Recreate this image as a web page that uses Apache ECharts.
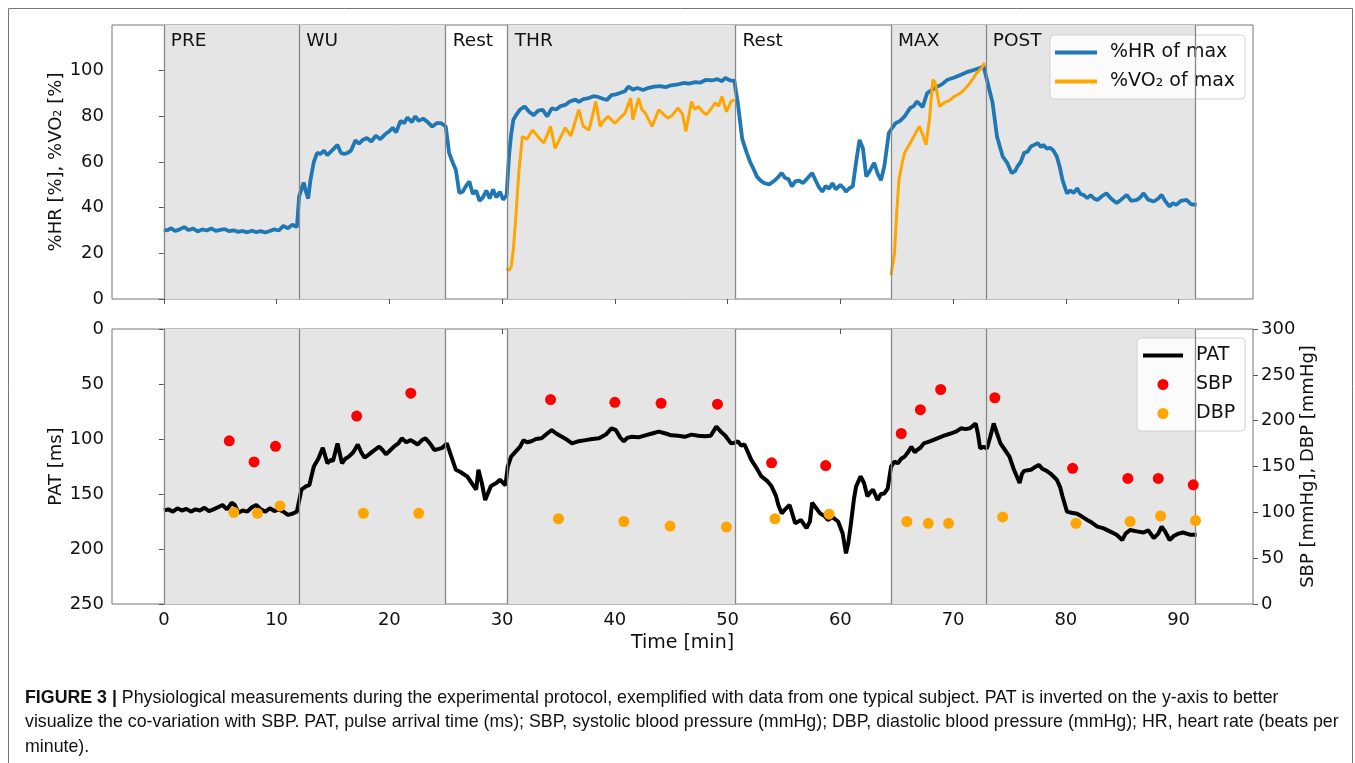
<!DOCTYPE html>
<html>
<head>
<meta charset="utf-8">
<script src="https://cdn.jsdelivr.net/npm/echarts@6/dist/echarts.min.js"></script>
<style>html,body{margin:0;padding:0;background:#fff;}#chart{width:1355px;height:763px;}</style>
</head>
<body>
<div id="chart"></div>
<script>
// ---------------- DATA ----------------
const phaseNames = ['PRE','WU','Rest','THR','Rest','MAX','POST'];
const phaseStart = [0, 12, 25, 30.5, 50.7, 64.5, 72.9];
const phaseEnd   = [12, 25, 30.5, 50.7, 64.5, 72.9, 91.5];
const phaseShaded = [true, true, false, true, false, true, true];
const phaseBoundaries = [0, 12, 25, 30.5, 50.7, 64.5, 72.9, 91.5];

const xTicks = [0,10,20,30,40,50,60,70,80,90];
const topYTicks = [0,20,40,60,80,100];

const hrTime = [0,0.3,0.6,1,1.4,1.8,2.2,2.6,3,3.4,3.8,4.2,4.6,5,5.4,5.8,6.2,6.6,7,7.4,7.8,8.2,8.6,9,9.4,9.8,10.2,10.6,11,11.4,11.8,
 12,12.2,12.4,12.6,12.8,13,13.3,13.6,13.9,14.2,14.5,14.8,15.1,15.4,15.7,16,16.3,16.6,17,17.3,17.6,18,18.4,18.8,19.2,19.6,20,20.3,20.6,21,21.3,21.6,22,22.3,22.6,23,23.4,23.8,24.2,24.6,25,
 25.3,25.6,25.9,26.2,26.5,26.8,27.1,27.4,27.7,28,28.3,28.6,28.9,29.2,29.5,29.8,30.1,30.4,
 30.6,30.8,31,31.3,31.6,32,32.4,32.8,33.2,33.6,34,34.4,34.8,35.2,35.6,36,36.5,36.8,37.2,37.7,38.1,38.5,39,39.3,39.7,40.1,40.5,40.9,41.2,41.6,42,42.5,43,43.5,44,44.5,45,45.6,46.1,46.6,47.1,47.6,48.1,48.6,49.1,49.5,49.8,50.2,50.6,
 50.9,51.1,51.3,51.7,52,52.2,52.6,53,53.3,53.7,54.2,54.5,54.8,55.1,55.4,55.7,56,56.3,56.7,57.1,57.5,57.8,58.1,58.4,58.7,59,59.3,59.6,60,60.3,60.5,60.8,61.1,61.4,61.7,62,62.3,62.6,63,63.3,63.6,63.9,64.3,64.6,64.9,
 65.3,65.7,66.2,66.5,66.8,67.3,67.7,68.1,68.6,69,69.5,70.1,70.7,71.3,71.9,72.3,72.7,73,73.2,
 73.5,73.9,74.4,74.8,75.2,75.5,75.7,76,76.3,76.6,76.9,77.2,77.5,77.8,78,78.3,78.6,78.9,79.2,79.5,79.7,80.1,80.4,80.7,81,81.3,81.6,81.9,82.2,82.5,82.8,83.2,83.6,84,84.5,84.9,85.4,85.8,86.3,86.6,86.9,87.3,87.8,88.2,88.5,88.8,89.2,89.5,89.8,90.2,90.7,91.1,91.6];
const hrValues = [30.5,30,31,29.8,30.5,31.5,30.2,30.8,29.6,30.5,30,30.9,29.8,30.3,30.6,29.7,30.1,29.4,29.8,29.2,29.9,29.3,29.7,29.1,29.8,30.5,30,32,31,32.5,31.5,
 45,48,51,47,44,52,60,64,63.5,65,63,64.5,66,67.5,64,63.5,64,65,69.5,68,69.5,70.5,69,71.5,70,72,73.5,75,73,78,77,79.5,77.5,80,78,79,77.5,75.5,77,77,75.5,
 64,60,56.5,46.5,47,49.5,51.5,46,47.5,43,44.5,47.5,44,48,44.5,47,43.5,45.5,
 62,72,78.5,81,83,84.3,82,80.5,82.5,82.8,80,83.5,83,84.5,85,86.5,87.3,86.3,87.5,88,88.8,88.5,87.6,87.2,89.3,89.6,90.3,91,93,91.7,92.4,91.5,92.5,93,93.2,92.8,93.6,94,94.6,94.3,95,94.8,96,95.7,96.3,95.4,96.8,95.8,95.5,
 86,78,70,64,60,58,53.6,51.5,50.7,50.2,52,53.5,55.2,53,52.5,49.3,51.5,51.9,50.8,53,55.2,52,49,47,49.5,48.3,50.7,48,50,48.5,47,48.5,49.3,60,69.7,66,53.6,56,59.6,55,52,58,72.7,75,77,
 78,80,83.7,84.5,86.5,84,90.2,91.5,93,94,96,97,98.2,99.5,100.4,101,101.9,96,92,
 86,71,62.4,59.6,55.2,56,58,60,64,64.5,66.8,67.5,68.3,66.5,67.5,65.9,66.2,65,62.4,57,52.2,46.3,47.5,46.5,48.5,46,45.5,44.2,45.5,44,43.4,45,46.3,44,42,43.5,45.6,43,43.4,44.5,46.3,43.5,42.7,44,45.6,43,40.5,42,41.2,43,43.4,41.5,41.2];

const vo2Time = [30.4,30.6,30.8,31,31.2,31.5,31.8,32.2,32.7,33.2,33.7,34,34.3,34.7,35.1,35.6,36.1,36.5,36.8,37.2,37.7,38,38.3,38.7,39,39.4,40,40.4,40.9,41.4,41.6,42.1,42.4,42.7,43.3,43.9,44.3,44.7,45.1,45.6,46,46.3,46.8,47.1,47.4,47.8,48.1,48.5,48.9,49.2,49.5,49.9,50.3,50.6,
 57,
 64.5,64.8,65,65.2,65.5,65.7,66.2,66.6,67,67.3,67.6,67.9,68.2,68.4,68.8,69.2,69.7,70.1,70.6,71,71.5,72.1,72.5,72.8];
const vo2Values = [13.5,12.5,14,22,34.6,56.6,71.2,70,74,71,68.3,72,75.6,66,70,75,71.4,78,82.9,75.6,74,80,86.5,75.6,78,80,77,79,81.4,88,78.5,88,83,81.4,75.6,82.9,81,79.2,80.5,83.7,81,73.4,86.5,83,84.3,82,80.7,83,85.9,84.5,88.7,82,86.5,87.3,
 null,
 10.5,20,38,52.2,60,64,68.3,72,75.6,72,67.5,78.5,96,95,84.3,86,87,88.7,90,91.7,94.6,99,101,103.4];

const patTime = [0,0.4,0.8,1.2,1.6,2,2.4,2.8,3.2,3.6,4,4.4,4.8,5.2,5.6,6,6.3,6.6,7,7.4,7.8,8.2,8.6,9,9.4,9.8,10.2,10.6,11,11.4,11.8,
 12.2,12.6,12.9,13.3,13.7,14.1,14.5,14.8,15,15.4,15.8,16.1,16.4,16.8,17.2,17.5,17.8,18.2,18.5,19.1,19.4,19.7,20.1,20.4,20.8,21.1,21.5,21.9,22.2,22.5,22.9,23.2,23.6,24,24.4,24.7,25.1,
 25.5,25.9,26.3,26.6,26.9,27.3,27.7,27.9,28.2,28.5,28.8,29,29.3,29.5,29.8,30.1,30.3,
 30.5,30.8,31.2,31.6,31.9,32.2,32.6,33,33.5,34,34.4,34.8,35.3,35.8,36.2,36.8,37.4,38,38.6,39.2,39.7,40.1,40.5,40.8,41.1,41.5,42.1,42.7,43.3,43.9,44.5,45,45.6,46.2,46.8,47.4,48,48.5,49,49.4,49.8,50.3,50.6,
 50.9,51.2,51.5,52.1,52.6,53,53.5,53.9,54.3,54.5,54.8,55.1,55.5,56,56.5,57,57.3,57.5,57.8,58.2,58.6,58.9,59.3,59.8,60.2,60.5,60.7,60.9,61.2,61.4,61.8,62.1,62.4,62.7,62.9,63.3,63.6,63.9,64.2,
 64.5,64.8,65.1,65.4,65.7,66,66.3,66.6,66.8,67.1,67.4,68,68.6,69.2,69.8,70.3,70.7,71.1,71.5,72,72.2,72.4,72.7,
 73,73.3,73.6,73.9,74.2,74.6,75,75.4,75.9,76.1,76.3,76.9,77.2,77.6,77.9,78.3,78.7,79.2,79.5,79.7,80.1,80.5,81,81.5,81.9,82.3,82.8,83.3,83.9,84.5,85,85.3,85.7,86.3,86.9,87.3,87.8,88.2,88.5,88.8,89.2,89.6,90,90.4,91,91.6];
const patValues = [165,164,166,163,165,163.5,166,164,165,162.5,165.5,164,162,160,164,158,160,167,165,166,162,160,164,166,163,165.5,164,166,169,168,166,
 146,143,142,125,118,108,122,119,120,104,122,118,116,112,105,112,117,114,111.5,107,110,114,110,107,104,99.4,103,101,103,105,101,99.4,104,110,109,108,104,
 116,128,130,132,134,140,146,128,140,155.5,148,143,141,140,137,140,142,
 125,116,111.5,107,101,103,102,100,99.4,95,92,95,98,101,104,102,101,100,99.4,96,90.3,92,99,102,99,98,98.5,96.7,95,93.3,95,96.7,97,98,96,97,97.5,97,88.8,93.3,97,104,103.5,
 102,106,105,119,127,134,138,143,152,160,167.6,164,160,176.7,173.6,181,175,158,162,167.6,170,173.6,171,175,185.7,204,195,180,155,143,134,140,152,148,146,155.5,150,149.5,145,
 125,120.6,122,118,116,112,107,112,110,108,104,102,99.4,97,95,93,90.3,91,90.3,85.8,95,108.5,107,
 108.5,98,85.8,95,104,110,116,128,140,132,129,128,126,123.6,127,129,132,137,144,152,166,167,168,171,173.6,176,179.7,181,184,187,191.8,186,182.7,184,185,183,190,186,179.7,184,191.8,188,186,185,187,187];

const sbpTime   = [5.8, 8.0, 9.9, 17.1, 21.9, 34.3, 40.0, 44.1, 49.1, 53.9, 58.7, 65.4, 67.1, 68.9, 73.7, 80.6, 85.5, 88.2, 91.3];
const sbpValues = [178, 155, 172, 205, 230, 223, 220, 219, 218, 154, 151, 186, 212, 234, 225, 148, 137, 137, 130];
const dbpTime   = [6.2, 8.3, 10.3, 17.7, 22.6, 35.0, 40.8, 44.9, 49.9, 54.2, 59.0, 65.9, 67.8, 69.6, 74.4, 80.9, 85.7, 88.4, 91.5];
const dbpValues = [100, 99, 107, 99, 99, 93, 90, 85, 84, 93, 98, 90, 88, 88, 95, 88, 90, 96, 91];

const captionLines = [
  ['FIGURE 3 | ', 'Physiological measurements during the experimental protocol, exemplified with data from one typical subject. PAT is inverted on the y-axis to better'],
  ['', 'visualize the co-variation with SBP. PAT, pulse arrival time (ms); SBP, systolic blood pressure (mmHg); DBP, diastolic blood pressure (mmHg); HR, heart rate (beats per'],
  ['', 'minute).']
];

// ---------------- BUILD ----------------
const zip = (a, b) => a.map((t, i) => [t, b[i]]);
const FONT = 'DejaVu Sans';
const axisCol = '#555';

function phaseAreas() {
  return phaseNames.map((n, i) => [
    { name: n, xAxis: phaseStart[i], itemStyle: { color: phaseShaded[i] ? '#e5e5e5' : 'rgba(0,0,0,0)' } },
    { xAxis: phaseEnd[i] }
  ]);
}
function phaseLines() {
  return { silent: true, symbol: ['none', 'none'], label: { show: false },
    lineStyle: { color: '#888', width: 1.3, type: 'solid' },
    emphasis: { disabled: true },
    data: phaseBoundaries.map(b => ({ xAxis: b })) };
}

function xAxisDef(grid, showLabels) {
  return {
    gridIndex: grid, type: 'value', min: -4.6, max: 96.6,
    axisLine: { show: false },
    splitLine: { show: false },
    axisTick: { show: true, customValues: xTicks, length: 5, lineStyle: { color: axisCol } },
    axisLabel: { show: showLabels, customValues: xTicks, fontSize: 18, fontFamily: FONT, color: '#111', margin: 7 },
    name: showLabels ? 'Time [min]' : '', nameLocation: 'middle', nameGap: 30,
    nameTextStyle: { fontSize: 19, fontFamily: FONT, color: '#111' }
  };
}

const legendBox = {
  orient: 'vertical', selectedMode: false,
  textStyle: { fontSize: 19, fontFamily: FONT, color: '#111', padding: [0, 0, 0, 8] },
  backgroundColor: 'rgba(255,255,255,0.85)', borderColor: '#d0d0d0', borderWidth: 1, borderRadius: 4
};

const option = {
  animation: false,
  backgroundColor: '#fff',
  grid: [
    { left: 112, top: 25, width: 1141, height: 274, show: true, borderColor: '#777', borderWidth: 1, backgroundColor: 'transparent' },
    { left: 112, top: 329, width: 1141, height: 275, show: true, borderColor: '#777', borderWidth: 1, backgroundColor: 'transparent' }
  ],
  xAxis: [xAxisDef(0, false), xAxisDef(1, true)],
  yAxis: [
    { gridIndex: 0, type: 'value', min: 0, max: 120,
      axisLine: { show: false }, splitLine: { show: false },
      axisTick: { show: true, customValues: topYTicks, length: 5, lineStyle: { color: axisCol } },
      axisLabel: { customValues: topYTicks, fontSize: 18, fontFamily: FONT, color: '#111', margin: 8 },
      name: '%HR [%], %VO₂ [%]', nameLocation: 'middle', nameGap: 47, nameRotate: 90, nameMoveOverlap: false,
      nameTextStyle: { fontSize: 18, fontFamily: FONT, color: '#111' } },
    { gridIndex: 1, type: 'value', min: 0, max: 250, interval: 50, inverse: true,
      axisLine: { show: false }, splitLine: { show: false },
      axisTick: { show: true, length: 5, lineStyle: { color: axisCol } },
      axisLabel: { fontSize: 18, fontFamily: FONT, color: '#111', margin: 8 },
      name: 'PAT [ms]', nameLocation: 'middle', nameGap: 47, nameRotate: 90, nameMoveOverlap: false,
      nameTextStyle: { fontSize: 18, fontFamily: FONT, color: '#111' } },
    { gridIndex: 1, type: 'value', min: 0, max: 300, interval: 50, position: 'right',
      axisLine: { show: false }, splitLine: { show: false },
      axisTick: { show: true, length: 5, lineStyle: { color: axisCol } },
      axisLabel: { fontSize: 18, fontFamily: FONT, color: '#111', margin: 8 },
      name: 'SBP [mmHg], DBP [mmHg]', nameLocation: 'middle', nameGap: 46, nameRotate: 90, nameMoveOverlap: false,
      nameTextStyle: { fontSize: 18, fontFamily: FONT, color: '#111' } }
  ],
  legend: [
    Object.assign({}, legendBox, {
      data: ['%HR of max', '%VO₂ of max'], left: 1050, top: 35,
      icon: 'rect', itemWidth: 42, itemHeight: 4, itemGap: 10,
      padding: [8, 10, 8, 5] }),
    Object.assign({}, legendBox, {
      data: [{ name: 'PAT', icon: 'path://M0,0H40V4H0Z' }, { name: 'SBP', icon: 'circle' }, { name: 'DBP', icon: 'circle' }],
      left: 1137, top: 338, itemWidth: 40, itemHeight: 11, itemGap: 10,
      padding: [8, 10, 8, 6] })
  ],
  series: [
    { type: 'line', name: '%HR of max', xAxisIndex: 0, yAxisIndex: 0, data: zip(hrTime, hrValues),
      symbol: 'none', showSymbol: false, lineStyle: { color: '#1f77b4', width: 3.8 }, itemStyle: { color: '#1f77b4' },
      z: 3,
      markArea: { silent: true, data: phaseAreas(),
        label: { show: true, position: 'insideTopLeft', distance: 7, fontSize: 18.5, fontFamily: FONT, color: '#111' } },
      markLine: phaseLines() },
    { type: 'line', name: '%VO₂ of max', xAxisIndex: 0, yAxisIndex: 0, data: zip(vo2Time, vo2Values),
      connectNulls: false, symbol: 'none', showSymbol: false, lineStyle: { color: '#ffa500', width: 3 }, itemStyle: { color: '#ffa500' }, z: 4 },
    { type: 'line', name: 'PAT', xAxisIndex: 1, yAxisIndex: 1, data: zip(patTime, patValues),
      symbol: 'none', showSymbol: false, lineStyle: { color: '#000', width: 4 }, itemStyle: { color: '#000' }, z: 3,
      markArea: { silent: true, data: phaseAreas(), label: { show: false } },
      markLine: phaseLines() },
    { type: 'scatter', name: 'SBP', xAxisIndex: 1, yAxisIndex: 2, data: zip(sbpTime, sbpValues),
      symbol: 'circle', symbolSize: 11, itemStyle: { color: '#ff0000', opacity: 1 }, z: 5 },
    { type: 'scatter', name: 'DBP', xAxisIndex: 1, yAxisIndex: 2, data: zip(dbpTime, dbpValues),
      symbol: 'circle', symbolSize: 11, itemStyle: { color: '#ffa500', opacity: 1 }, z: 5 }
  ],
  graphic: [
    { type: 'rect', shape: { x: 8.5, y: 8.5, width: 1344, height: 800 }, style: { fill: 'none', stroke: '#777', lineWidth: 1 }, silent: true, z: 0 }
  ].concat(captionLines.map((ln, i) => ({
    type: 'text', left: 25, top: 689 + i * 24.5, silent: true,
    style: {
      text: (ln[0] ? '{b|' + ln[0] + '}' : '') + '{r|' + ln[1] + '}',
      rich: {
        b: { fontFamily: 'Liberation Sans', fontWeight: 'bold', fontSize: 17.8, fill: '#111' },
        r: { fontFamily: 'Liberation Sans', fontSize: 17.8, fill: '#111' }
      }
    }
  })))
};

const chart = echarts.init(document.getElementById('chart'), null, { renderer: 'canvas' });
chart.setOption(option);
</script>
</body>
</html>
